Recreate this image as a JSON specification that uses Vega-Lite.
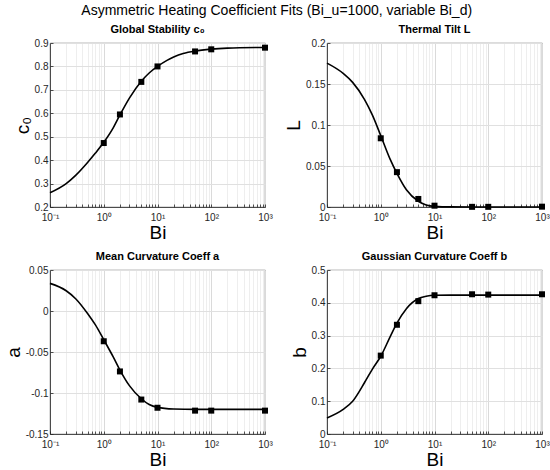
{
  "$schema": "https://vega.github.io/schema/vega-lite/v6.json",
  "title": {
    "text": "Asymmetric Heating Coefficient Fits (Bi_u=1000, variable Bi_d)",
    "fontSize": 14,
    "fontWeight": "normal",
    "anchor": "middle",
    "offset": 6
  },
  "padding": {"left": 3, "top": 3, "right": 3, "bottom": 0},
  "datasets": {
    "fit": [
      {"panel": "c0", "Bi": 0.1, "v": 0.261},
      {"panel": "c0", "Bi": 0.2, "v": 0.3},
      {"panel": "c0", "Bi": 0.3, "v": 0.335},
      {"panel": "c0", "Bi": 0.5, "v": 0.39},
      {"panel": "c0", "Bi": 0.7, "v": 0.43},
      {"panel": "c0", "Bi": 1, "v": 0.476},
      {"panel": "c0", "Bi": 1.5, "v": 0.538},
      {"panel": "c0", "Bi": 2, "v": 0.593},
      {"panel": "c0", "Bi": 3, "v": 0.665},
      {"panel": "c0", "Bi": 5, "v": 0.737},
      {"panel": "c0", "Bi": 7, "v": 0.772},
      {"panel": "c0", "Bi": 10, "v": 0.8},
      {"panel": "c0", "Bi": 15, "v": 0.826},
      {"panel": "c0", "Bi": 20, "v": 0.84},
      {"panel": "c0", "Bi": 30, "v": 0.855},
      {"panel": "c0", "Bi": 50, "v": 0.866},
      {"panel": "c0", "Bi": 100, "v": 0.874},
      {"panel": "c0", "Bi": 200, "v": 0.878},
      {"panel": "c0", "Bi": 1000, "v": 0.881},
      {"panel": "L", "Bi": 0.1, "v": 0.1755},
      {"panel": "L", "Bi": 0.2, "v": 0.163},
      {"panel": "L", "Bi": 0.3, "v": 0.152},
      {"panel": "L", "Bi": 0.5, "v": 0.131},
      {"panel": "L", "Bi": 0.7, "v": 0.112},
      {"panel": "L", "Bi": 1, "v": 0.087},
      {"panel": "L", "Bi": 1.5, "v": 0.058},
      {"panel": "L", "Bi": 2, "v": 0.041},
      {"panel": "L", "Bi": 3, "v": 0.021},
      {"panel": "L", "Bi": 5, "v": 0.007},
      {"panel": "L", "Bi": 7, "v": 0.0025},
      {"panel": "L", "Bi": 10, "v": 0.0008},
      {"panel": "L", "Bi": 20, "v": 0.0001},
      {"panel": "L", "Bi": 50, "v": 0},
      {"panel": "L", "Bi": 1000, "v": 0},
      {"panel": "a", "Bi": 0.1, "v": 0.0337},
      {"panel": "a", "Bi": 0.2, "v": 0.0247},
      {"panel": "a", "Bi": 0.3, "v": 0.015},
      {"panel": "a", "Bi": 0.5, "v": -0.003},
      {"panel": "a", "Bi": 0.7, "v": -0.017},
      {"panel": "a", "Bi": 1, "v": -0.035},
      {"panel": "a", "Bi": 1.5, "v": -0.056},
      {"panel": "a", "Bi": 2, "v": -0.072},
      {"panel": "a", "Bi": 3, "v": -0.091},
      {"panel": "a", "Bi": 5, "v": -0.107},
      {"panel": "a", "Bi": 7, "v": -0.114},
      {"panel": "a", "Bi": 10, "v": -0.1175},
      {"panel": "a", "Bi": 20, "v": -0.1195},
      {"panel": "a", "Bi": 50, "v": -0.12},
      {"panel": "a", "Bi": 1000, "v": -0.12},
      {"panel": "b", "Bi": 0.1, "v": 0.049},
      {"panel": "b", "Bi": 0.2, "v": 0.075},
      {"panel": "b", "Bi": 0.3, "v": 0.1},
      {"panel": "b", "Bi": 0.5, "v": 0.157},
      {"panel": "b", "Bi": 0.7, "v": 0.198},
      {"panel": "b", "Bi": 1, "v": 0.237},
      {"panel": "b", "Bi": 1.5, "v": 0.297},
      {"panel": "b", "Bi": 2, "v": 0.338},
      {"panel": "b", "Bi": 3, "v": 0.382},
      {"panel": "b", "Bi": 5, "v": 0.413},
      {"panel": "b", "Bi": 7, "v": 0.42},
      {"panel": "b", "Bi": 10, "v": 0.423},
      {"panel": "b", "Bi": 20, "v": 0.4235},
      {"panel": "b", "Bi": 1000, "v": 0.4235}
    ],
    "pts": [
      {"panel": "c0", "Bi": 1, "v": 0.473},
      {"panel": "c0", "Bi": 2, "v": 0.595},
      {"panel": "c0", "Bi": 5, "v": 0.734},
      {"panel": "c0", "Bi": 10, "v": 0.8},
      {"panel": "c0", "Bi": 50, "v": 0.864},
      {"panel": "c0", "Bi": 100, "v": 0.873},
      {"panel": "c0", "Bi": 1000, "v": 0.88},
      {"panel": "L", "Bi": 1, "v": 0.0838},
      {"panel": "L", "Bi": 2, "v": 0.0425},
      {"panel": "L", "Bi": 5, "v": 0.0098},
      {"panel": "L", "Bi": 10, "v": 0.0016},
      {"panel": "L", "Bi": 50, "v": 0.0002},
      {"panel": "L", "Bi": 100, "v": 0.0002},
      {"panel": "L", "Bi": 1000, "v": 0.0004},
      {"panel": "a", "Bi": 1, "v": -0.0369},
      {"panel": "a", "Bi": 2, "v": -0.0737},
      {"panel": "a", "Bi": 5, "v": -0.108},
      {"panel": "a", "Bi": 10, "v": -0.118},
      {"panel": "a", "Bi": 50, "v": -0.1215},
      {"panel": "a", "Bi": 100, "v": -0.1215},
      {"panel": "a", "Bi": 1000, "v": -0.1215},
      {"panel": "b", "Bi": 1, "v": 0.239},
      {"panel": "b", "Bi": 2, "v": 0.333},
      {"panel": "b", "Bi": 5, "v": 0.405},
      {"panel": "b", "Bi": 10, "v": 0.423},
      {"panel": "b", "Bi": 50, "v": 0.426},
      {"panel": "b", "Bi": 100, "v": 0.425},
      {"panel": "b", "Bi": 1000, "v": 0.426}
    ]
  },
  "columns": 2,
  "spacing": {"row": 7, "column": 11},
  "concat": [
    {
      "width": 215,
      "height": 164,
      "title": "Global Stability c₀",
      "layer": [
        {
          "data": {"name": "fit"},
          "transform": [{"filter": "datum.panel == 'c0'"}],
          "mark": {"type": "line", "color": "black", "strokeWidth": 1.6, "interpolate": "monotone"},
          "encoding": {
            "x": {
              "field": "Bi", "type": "quantitative",
              "scale": {"type": "log", "domain": [0.1, 1000], "nice": false},
              "axis": {
                "title": "Bi",
                "values": [0.1, 0.2, 0.3, 0.4, 0.5, 0.6, 0.7, 0.8, 0.9, 1, 2, 3, 4, 5, 6, 7, 8, 9, 10, 20, 30, 40, 50, 60, 70, 80, 90, 100, 200, 300, 400, 500, 600, 700, 800, 900, 1000],
                "labelExpr": "datum.value == 0.1 ? '10⁻¹' : datum.value == 1 ? '10⁰' : datum.value == 10 ? '10¹' : datum.value == 100 ? '10²' : datum.value == 1000 ? '10³' : ''",
                "gridColor": {"condition": {"test": "indexof([0.1, 1, 10, 100, 1000], datum.value) >= 0", "value": "#dadada"}, "value": "#eeeeee"}
              }
            },
            "y": {
              "field": "v", "type": "quantitative",
              "scale": {"domain": [0.2, 0.9], "nice": false, "zero": false},
              "axis": {"title": "c₀", "values": [0.2, 0.3, 0.4, 0.5, 0.6, 0.7, 0.8, 0.9], "tickCount": 20, "labelExpr": "'' + datum.value"}
            }
          }
        },
        {
          "data": {"name": "pts"},
          "transform": [{"filter": "datum.panel == 'c0'"}],
          "mark": {"type": "point", "shape": "square", "filled": true, "color": "black", "size": 36, "opacity": 1},
          "encoding": {
            "x": {"field": "Bi", "type": "quantitative"},
            "y": {"field": "v", "type": "quantitative"}
          }
        }
      ]
    },
    {
      "width": 215,
      "height": 164,
      "title": "Thermal Tilt L",
      "layer": [
        {
          "data": {"name": "fit"},
          "transform": [{"filter": "datum.panel == 'L'"}],
          "mark": {"type": "line", "color": "black", "strokeWidth": 1.6, "interpolate": "monotone"},
          "encoding": {
            "x": {
              "field": "Bi", "type": "quantitative",
              "scale": {"type": "log", "domain": [0.1, 1000], "nice": false},
              "axis": {
                "title": "Bi",
                "values": [0.1, 0.2, 0.3, 0.4, 0.5, 0.6, 0.7, 0.8, 0.9, 1, 2, 3, 4, 5, 6, 7, 8, 9, 10, 20, 30, 40, 50, 60, 70, 80, 90, 100, 200, 300, 400, 500, 600, 700, 800, 900, 1000],
                "labelExpr": "datum.value == 0.1 ? '10⁻¹' : datum.value == 1 ? '10⁰' : datum.value == 10 ? '10¹' : datum.value == 100 ? '10²' : datum.value == 1000 ? '10³' : ''",
                "gridColor": {"condition": {"test": "indexof([0.1, 1, 10, 100, 1000], datum.value) >= 0", "value": "#dadada"}, "value": "#eeeeee"}
              }
            },
            "y": {
              "field": "v", "type": "quantitative",
              "scale": {"domain": [0, 0.2], "nice": false},
              "axis": {"title": "L", "values": [0, 0.05, 0.1, 0.15, 0.2], "tickCount": 20, "labelExpr": "'' + datum.value"}
            }
          }
        },
        {
          "data": {"name": "pts"},
          "transform": [{"filter": "datum.panel == 'L'"}],
          "mark": {"type": "point", "shape": "square", "filled": true, "color": "black", "size": 36, "opacity": 1},
          "encoding": {
            "x": {"field": "Bi", "type": "quantitative"},
            "y": {"field": "v", "type": "quantitative"}
          }
        }
      ]
    },
    {
      "width": 215,
      "height": 164,
      "title": "Mean Curvature Coeff a",
      "layer": [
        {
          "data": {"name": "fit"},
          "transform": [{"filter": "datum.panel == 'a'"}],
          "mark": {"type": "line", "color": "black", "strokeWidth": 1.6, "interpolate": "monotone"},
          "encoding": {
            "x": {
              "field": "Bi", "type": "quantitative",
              "scale": {"type": "log", "domain": [0.1, 1000], "nice": false},
              "axis": {
                "title": "Bi",
                "values": [0.1, 0.2, 0.3, 0.4, 0.5, 0.6, 0.7, 0.8, 0.9, 1, 2, 3, 4, 5, 6, 7, 8, 9, 10, 20, 30, 40, 50, 60, 70, 80, 90, 100, 200, 300, 400, 500, 600, 700, 800, 900, 1000],
                "labelExpr": "datum.value == 0.1 ? '10⁻¹' : datum.value == 1 ? '10⁰' : datum.value == 10 ? '10¹' : datum.value == 100 ? '10²' : datum.value == 1000 ? '10³' : ''",
                "gridColor": {"condition": {"test": "indexof([0.1, 1, 10, 100, 1000], datum.value) >= 0", "value": "#dadada"}, "value": "#eeeeee"}
              }
            },
            "y": {
              "field": "v", "type": "quantitative",
              "scale": {"domain": [-0.15, 0.05], "nice": false, "zero": false},
              "axis": {"title": "a", "values": [-0.15, -0.1, -0.05, 0, 0.05], "tickCount": 20, "labelExpr": "'' + datum.value"}
            }
          }
        },
        {
          "data": {"name": "pts"},
          "transform": [{"filter": "datum.panel == 'a'"}],
          "mark": {"type": "point", "shape": "square", "filled": true, "color": "black", "size": 36, "opacity": 1},
          "encoding": {
            "x": {"field": "Bi", "type": "quantitative"},
            "y": {"field": "v", "type": "quantitative"}
          }
        }
      ]
    },
    {
      "width": 215,
      "height": 164,
      "title": "Gaussian Curvature Coeff b",
      "layer": [
        {
          "data": {"name": "fit"},
          "transform": [{"filter": "datum.panel == 'b'"}],
          "mark": {"type": "line", "color": "black", "strokeWidth": 1.6, "interpolate": "monotone"},
          "encoding": {
            "x": {
              "field": "Bi", "type": "quantitative",
              "scale": {"type": "log", "domain": [0.1, 1000], "nice": false},
              "axis": {
                "title": "Bi",
                "values": [0.1, 0.2, 0.3, 0.4, 0.5, 0.6, 0.7, 0.8, 0.9, 1, 2, 3, 4, 5, 6, 7, 8, 9, 10, 20, 30, 40, 50, 60, 70, 80, 90, 100, 200, 300, 400, 500, 600, 700, 800, 900, 1000],
                "labelExpr": "datum.value == 0.1 ? '10⁻¹' : datum.value == 1 ? '10⁰' : datum.value == 10 ? '10¹' : datum.value == 100 ? '10²' : datum.value == 1000 ? '10³' : ''",
                "gridColor": {"condition": {"test": "indexof([0.1, 1, 10, 100, 1000], datum.value) >= 0", "value": "#dadada"}, "value": "#eeeeee"}
              }
            },
            "y": {
              "field": "v", "type": "quantitative",
              "scale": {"domain": [0, 0.5], "nice": false},
              "axis": {"title": "b", "values": [0, 0.1, 0.2, 0.3, 0.4, 0.5], "tickCount": 20, "labelExpr": "'' + datum.value"}
            }
          }
        },
        {
          "data": {"name": "pts"},
          "transform": [{"filter": "datum.panel == 'b'"}],
          "mark": {"type": "point", "shape": "square", "filled": true, "color": "black", "size": 36, "opacity": 1},
          "encoding": {
            "x": {"field": "Bi", "type": "quantitative"},
            "y": {"field": "v", "type": "quantitative"}
          }
        }
      ]
    }
  ],
  "config": {
    "font": "Liberation Sans",
    "view": {"stroke": "#262626", "strokeWidth": 0.8},
    "axis": {
      "domainColor": "#262626",
      "domainWidth": 0.8,
      "labelColor": "#262626",
      "labelFontSize": 10,
      "titleFontSize": 19,
      "titleFontWeight": "normal",
      "titleColor": "#000000",
      "ticks": true,
      "tickSize": -3,
      "tickColor": "#262626",
      "tickWidth": 0.8,
      "labelPadding": 5,
      "gridColor": "#e0e0e0",
      "labelFlush": false,
      "labelOverlap": false
    },
    "axisY": {"titlePadding": 2},
    "axisX": {"titlePadding": 1, "labelPadding": 8},
    "title": {"fontSize": 11, "fontWeight": "bold", "offset": 3, "color": "#000000"}
  }
}
